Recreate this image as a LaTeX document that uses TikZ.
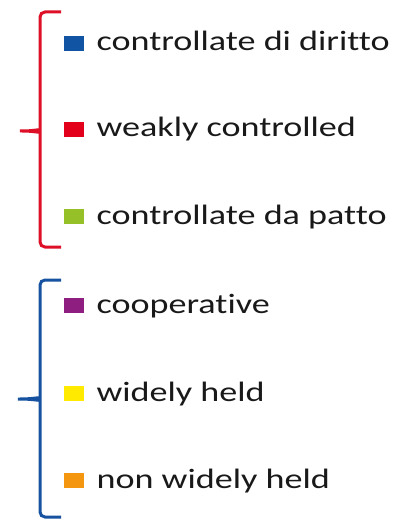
\documentclass[tikz,border=0pt]{standalone}
\usepackage{fontspec}
\setmainfont{Carlito}[FakeStretch=1.29,Ligatures=NoCommon]
\usetikzlibrary{positioning}
\definecolor{keyblue}{RGB}{18,84,164}
\definecolor{keyred}{RGB}{226,0,26}
\definecolor{keygreen}{RGB}{150,192,40}
\definecolor{keypurple}{RGB}{142,30,128}
\definecolor{keyyellow}{RGB}{255,234,0}
\definecolor{keyorange}{RGB}{244,150,16}
\definecolor{bracered}{RGB}{222,16,40}
\definecolor{braceblue}{RGB}{22,82,160}
\definecolor{txt}{RGB}{25,25,25}

\begin{document}
\begin{tikzpicture}[x=1pt,y=-1pt,
  key/.style={minimum width=20pt,minimum height=15pt,inner sep=0pt,anchor=south west},
  lbl/.style={font=\fontsize{28}{30}\selectfont,inner sep=0pt,text=txt},
  brace/.style={line width=3pt,rounded corners=5pt}]
  \useasboundingbox (0,0) rectangle (400,521);
  % upper group
  \node[key,fill=keyblue]   (k1) at (64,51)  {};
  \node[key,fill=keyred]    (k2) at (64,137) {};
  \node[key,fill=keygreen]  (k3) at (64,224) {};
  % lower group
  \node[key,fill=keypurple] (k4) at (64,313) {};
  \node[key,fill=keyyellow] (k5) at (64,401) {};
  \node[key,fill=keyorange] (k6) at (64,488) {};
  \node[lbl,right=12pt of k1.south east,anchor=base west] (t1) {controllate di diritto};
  \node[lbl,right=12pt of k2.south east,anchor=base west] (t2) {weakly controlled};
  \node[lbl,right=12pt of k3.south east,anchor=base west] (t3) {controllate da patto};
  \node[lbl,right=12pt of k4.south east,anchor=base west] (t4) {cooperative};
  \node[lbl,right=12pt of k5.south east,anchor=base west] (t5) {widely held};
  \node[lbl,right=12pt of k6.south east,anchor=base west] (t6) {non widely held};
  % braces
  \draw[brace,bracered] (61,12) -- (40,12) -- (40,125)
    .. controls (40,129) and (34,131) .. (17,131)
    .. controls (34,131) and (40,133) .. (40,137) -- (40,247) -- (61,247);
  \draw[brace,braceblue] (61,280) -- (40,280) -- (40,393)
    .. controls (40,397) and (33,399) .. (15,399)
    .. controls (33,399) and (40,401) .. (40,405) -- (40,517) -- (61,517);
\end{tikzpicture}
\end{document}
